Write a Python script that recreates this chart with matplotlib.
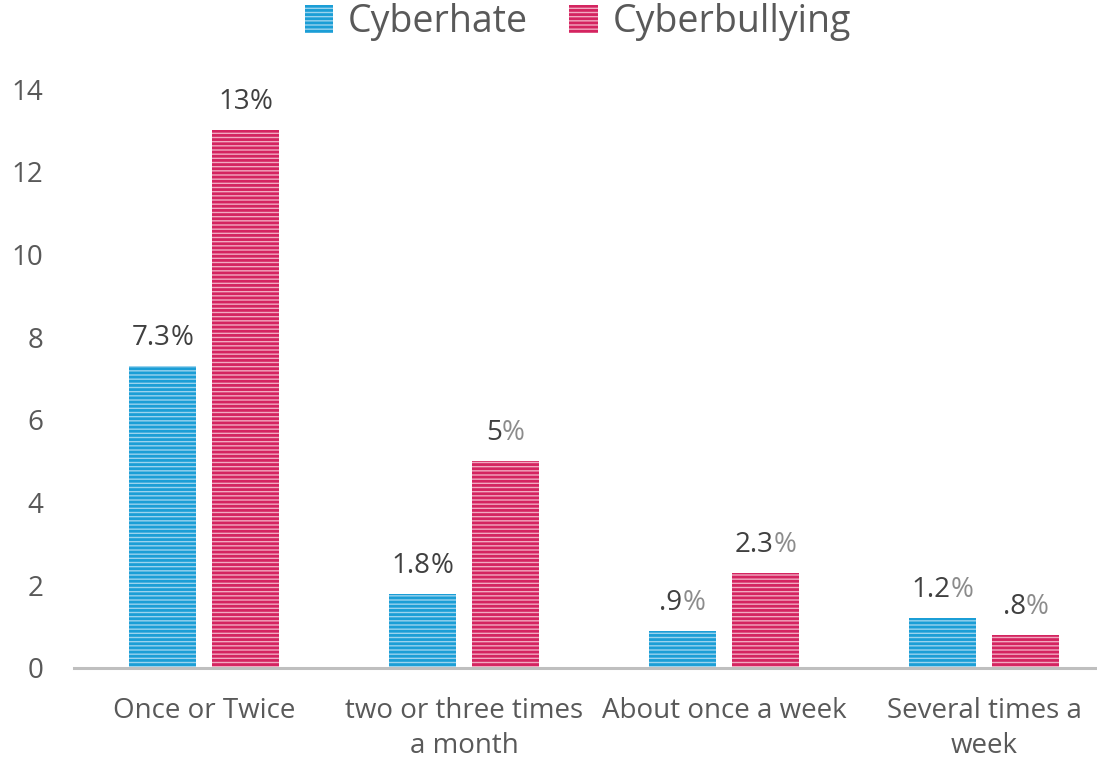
import matplotlib
matplotlib.use("Agg")
import matplotlib.pyplot as plt
import numpy as np

categories = ["Once or Twice", "two or three times\na month", "About once a week", "Several times a\nweek"]
cyberhate = [7.3, 1.8, 0.9, 1.2]
cyberbullying = [13, 5, 2.3, 0.8]
cyberhate_labels = ["7.3%", "1.8%", ".9%", "1.2%"]
cyberbullying_labels = ["13%", "5%", "2.3%", ".8%"]
cyberhate_light_pct = [False, False, True, True]
cyberbullying_light_pct = [False, True, True, True]
yticks = [0, 2, 4, 6, 8, 10, 12, 14]

FONT = ["Open Sans", "DejaVu Sans"]
plt.rcParams['font.family'] = FONT
plt.rcParams['hatch.linewidth'] = 2.0

W, H = 1097, 761
fig = plt.figure(figsize=(W / 100, H / 100), dpi=100)
ax_left, ax_right = 74 / W, 1114 / W
ax_bottom, ax_top = (H - 668) / H, (H - 89) / H
ax = fig.add_axes([ax_left, ax_bottom, ax_right - ax_left, ax_top - ax_bottom])

x = np.arange(len(categories))
bw = 0.26
off = 0.16
blue_dark, blue_light = "#1B9ED6", "#9AD3EE"
pink_dark, pink_light = "#D42460", "#F2A9C1"

b1 = ax.bar(x - off, cyberhate, bw, facecolor=blue_light, edgecolor=blue_dark,
            hatch="----", linewidth=0, label="Cyberhate", zorder=2)
b2 = ax.bar(x + off, cyberbullying, bw, facecolor=pink_light, edgecolor=pink_dark,
            hatch="----", linewidth=0, label="Cyberbullying", zorder=2)

FS = 20
ax.set_xlim(-0.5, len(categories) - 0.5)
ax.set_ylim(0, 14)
ax.set_yticks(yticks)
ax.set_yticklabels([str(t) for t in yticks])
ax.set_xticks(x)
ax.set_xticklabels(categories, fontsize=FS, color="#595959", linespacing=1.32)
ax.tick_params(axis='y', labelsize=FS, labelcolor="#595959", length=0, pad=22)
ax.tick_params(axis='x', length=0, pad=21)
for s in ["top", "right", "left"]:
    ax.spines[s].set_visible(False)
ax.spines["bottom"].set_color("#BFBFBF")
ax.spines["bottom"].set_linewidth(2.2)
ax.spines["bottom"].set_zorder(3)

fig.canvas.draw()
renderer = fig.canvas.get_renderer()
YOFF = 10

def label(xc, y, s, light):
    num, pct = s[:-1], s[-1]
    full = ax.annotate(s, (xc, y), xytext=(0, YOFF), textcoords="offset points",
                       ha="center", va="bottom", fontsize=FS, alpha=0)
    bb = full.get_window_extent(renderer)
    t1 = ax.annotate(num, (xc, y), xytext=(0, YOFF), textcoords="offset points",
                     ha="center", va="bottom", fontsize=FS, alpha=0)
    bbn = t1.get_window_extent(renderer)
    t1.remove()
    full.remove()
    left_px = bb.x0
    xd, _ = ax.transData.transform((xc, y))
    dx_num = (left_px + bbn.width / 2 - xd) * 72 / fig.dpi
    dx_pct = (left_px + bbn.width - xd) * 72 / fig.dpi
    ax.annotate(num, (xc, y), xytext=(dx_num, YOFF), textcoords="offset points",
                ha="center", va="bottom", fontsize=FS, color="#404040")
    ax.annotate(pct, (xc, y), xytext=(dx_pct, YOFF), textcoords="offset points",
                ha="left", va="bottom", fontsize=FS,
                color="#8C8C8C" if light else "#404040")

for i in range(len(categories)):
    label(x[i] - off, cyberhate[i], cyberhate_labels[i], cyberhate_light_pct[i])
    label(x[i] + off, cyberbullying[i], cyberbullying_labels[i], cyberbullying_light_pct[i])

leg = fig.legend(handles=[b1, b2], loc="center", bbox_to_anchor=(578 / W, (H - 22) / H),
                 ncol=2, frameon=False, fontsize=27, labelcolor="#595959",
                 handlelength=0.75, handleheight=0.75, handletextpad=0.4, columnspacing=1.1)

fig.savefig("out.png", dpi=100)
